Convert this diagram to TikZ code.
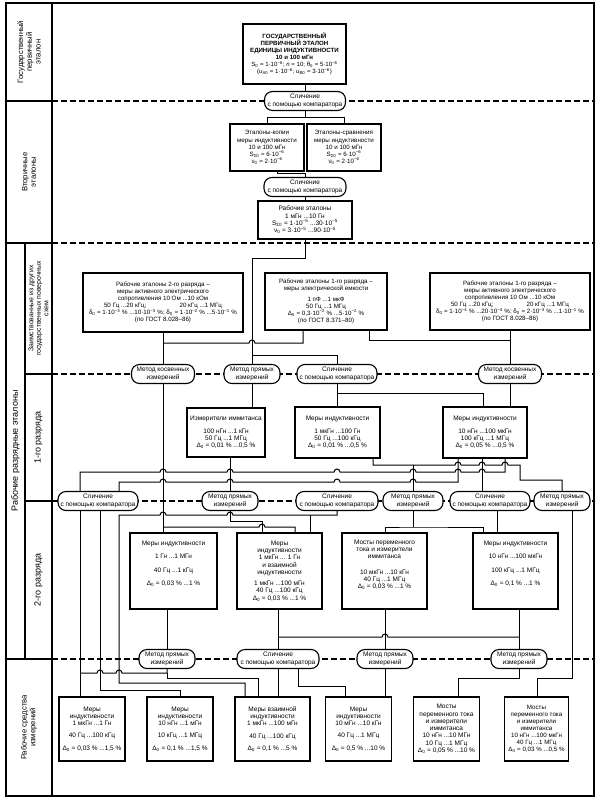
\documentclass[tikz,border=0pt]{standalone}
\usepackage{fontspec}
\setmainfont{Liberation Sans}
\newcommand\pw[1]{\textsuperscript{#1}}
\newcommand\sbs[1]{\textsubscript{#1}}
\newcommand\bmp[2]{-- ({#1-3},#2) arc[start angle=180,end angle=0,radius=3pt]}
\newcommand\bmpl[2]{-- ({#1+3},#2) arc[start angle=0,end angle=180,radius=3pt]}
\newcommand\bxf{\fontsize{6.5}{7.3}\selectfont}
\newcommand\bbf{\fontsize{6.2}{7.1}\selectfont}
\newcommand\gpf{\fontsize{6.1}{7.1}\selectfont}
\newcommand\lbf{\fontsize{7.7}{8.7}\selectfont}
\begin{document}
\begin{tikzpicture}[x=1pt,y=-1pt,
  box/.style={draw,line width=1.1pt,fill=white,align=center,font=\bxf,inner sep=1pt},
  oval/.style={draw,line width=1.1pt,fill=white,align=center,font=\bxf,rounded corners=8pt,minimum height=19pt,inner sep=0.5pt},
  conn/.style={line width=1pt},
  sepline/.style={line width=1.1pt,dash pattern=on 6pt off 3pt},
  frm/.style={line width=1.4pt},
  lab/.style={align=center,font=\lbf,rotate=90,inner sep=0pt}]
\fill[white] (0,0) rectangle (601,806);
\useasboundingbox (0,0) rectangle (601,806);
% separators
\foreach \yy in {101,243,374,501,659} \draw[sepline] (52,\yy) -- (594,\yy);
\draw[frm] (6,3) rectangle (594,796);
\draw[frm] (52,3) -- (52,796);
\draw[frm] (25,243) -- (25,659);
\draw[frm] (6,101) -- (52,101);
\draw[frm] (6,243) -- (52,243);
\draw[frm] (25,374) -- (52,374);
\draw[frm] (25,501) -- (52,501);
\draw[frm] (6,659) -- (52,659);
% labels
\node[lab] (L1) at (29,52) {Государственный\\первичный\\эталон};
\node[lab] (L2) at (29,172) {Вторичные\\эталоны};
\node[lab,font=\fontsize{9}{10}\selectfont] (L3) at (15.5,451) {Рабочие разрядные эталоны};
\node[lab,font=\fontsize{6.9}{7.4}\selectfont] (L3a) at (38.5,308.5) {Заимствованные из других\\государственных поверочных\\схем};
\node[lab,font=\fontsize{9}{10}\selectfont] (L3b) at (38.5,437.5) {1-го разряда};
\node[lab,font=\fontsize{9}{10}\selectfont] (L3c) at (38.5,580) {2-го разряда};
\node[lab] (L4) at (29,727.5) {Рабочие средства\\измерений};
% top
\node[box,line width=2.4pt,minimum width=103pt,minimum height=60pt,font=\gpf] (GPE) at (294.5,54)
 {\textbf{ГОСУДАРСТВЕННЫЙ}\\\textbf{ПЕРВИЧНЫЙ ЭТАЛОН}\\\textbf{ЕДИНИЦЫ ИНДУКТИВНОСТИ}\\\textbf{10 и 100 мГн}\\
  S\sbs{0} = 1·10\pw{−6}; \textit{n} = 10; θ\sbs{0} = 5·10\pw{−6}\\(\textit{u}\sbs{A0} = 1·10\pw{−6}; \textit{u}\sbs{B0} = 3·10\pw{−6})};
\node[oval,minimum width=81pt] (O1) at (305,101) {Сличение\\с помощью компаратора};
\node[box,minimum width=74pt,minimum height=47pt,font=\bbf] (EK) at (267,147.5)
 {Эталоны-копии\\меры индуктивности\\10 и 100 мГн\\S\sbs{Σ0} = 6·10\pw{−6}\\ν\sbs{0} = 2·10\pw{−6}};
\node[box,minimum width=74pt,minimum height=47pt,font=\bbf] (ES) at (344,147.5)
 {Эталоны-сравнения\\меры индуктивности\\10 и 100 мГн\\S\sbs{Σ0} = 6·10\pw{−6}\\ν\sbs{0} = 2·10\pw{−6}};
\node[oval,minimum width=82pt] (O2) at (305,187) {Сличение\\с помощью компаратора};
\node[box,minimum width=94pt,minimum height=38pt] (RE) at (305,220)
 {Рабочие эталоны\\1 мГн ...10 Гн\\S\sbs{Σ0} = 1·10\pw{−5} ...30·10\pw{−5}\\ν\sbs{0} = 3·10\pw{−5} ...90·10\pw{−5}};
% borrowed
\node[box,minimum width=160pt,minimum height=59pt,font=\bbf] (B1) at (163,302.5)
 {Рабочие эталоны 2-го разряда –\\меры активного электрического\\сопротивления 10 Ом ...10 кОм\\
  \makebox[118pt]{50 Гц ...20 кГц;\hfill 20 кГц ...1 МГц}\\
  δ\sbs{0} = 1·10\pw{−3} \% ...10·10\pw{−3} \%; δ\sbs{0} = 1·10\pw{−2} \% ...5·10\pw{−1} \%\\(по ГОСТ 8.028–86)};
\node[box,minimum width=122pt,minimum height=57pt,font=\bbf] (B2) at (326,301.5)
 {Рабочие эталоны 1-го разряда –\\меры электрической емкости\\[3pt]1 пФ ...1 мкФ\\50 Гц ...1 МГц\\
  Δ\sbs{0} = 0,3·10\pw{−2} \% ...5·10\pw{−2} \%\\(по ГОСТ 8.371–80)};
\node[box,minimum width=160pt,minimum height=57pt,font=\bbf] (B3) at (510,301.5)
 {Рабочие эталоны 1-го разряда –\\меры активного электрического\\сопротивления 10 Ом ...10 кОм\\
  \makebox[118pt]{50 Гц ...20 кГц;\hfill 20 кГц ...1 МГц}\\
  δ\sbs{0} = 1·10\pw{−4} \% ...20·10\pw{−4} \%; δ\sbs{0} = 2·10\pw{−3} \% ...1·10\pw{−1} \%\\(по ГОСТ 8.028–86)};
% ovals row 374
\node[oval,minimum width=63pt] (MK1) at (163,374) {Метод косвенных\\измерений};
\node[oval,minimum width=56pt] (MP1) at (252,374) {Метод прямых\\измерений};
\node[oval,minimum width=80pt] (SK1) at (337,374) {Сличение\\с помощью компаратора};
\node[oval,minimum width=63pt] (MK2) at (510,374) {Метод косвенных\\измерений};
% 1st rank
\node[box,minimum width=78pt,minimum height=49pt] (II) at (226,432.5)
 {Измерители иммитанса\\[5pt]100 нГн ...1 кГн\\50 Гц ...1 МГц\\Δ\sbs{0} = 0,01 \% ...0,5 \%};
\node[box,minimum width=85pt,minimum height=51pt] (MI1) at (337.5,432.5)
 {Меры индуктивности\\[5pt]1 мкГн ...100 Гн\\50 Гц ...100 кГц\\Δ\sbs{0} = 0,01 \% ...0,5 \%};
\node[box,minimum width=84pt,minimum height=51pt] (MI2) at (485,432.5)
 {Меры индуктивности\\[5pt]10 нГн ...100 мкГн\\100 кГц ...1 МГц\\Δ\sbs{0} = 0,05 \% ...0,5 \%};
% ovals row 501
\node[oval,minimum width=80pt] (SK2) at (98,501) {Сличение\\с помощью компаратора};
\node[oval,minimum width=56pt] (MP2) at (230,501) {Метод прямых\\измерений};
\node[oval,minimum width=82pt] (SK3) at (337,501) {Сличение\\с помощью компаратора};
\node[oval,minimum width=60pt] (MP3) at (413,501) {Метод прямых\\измерений};
\node[oval,minimum width=80pt] (SK4) at (490,501) {Сличение\\с помощью компаратора};
\node[oval,minimum width=56pt] (MP4) at (562,501) {Метод прямых\\измерений};
% 2nd rank
\node[box,minimum width=87pt,minimum height=76pt] (C1) at (173.5,571)
 {Меры индуктивности\\[6pt]1 Гн ...1 МГн\\[6pt]40 Гц ...1 кГц\\[6pt]Δ\sbs{0} = 0,03 \% ...1 \%\\[8pt]};
\node[box,minimum width=85pt,minimum height=76pt] (C2) at (279.5,571)
 {Меры\\индуктивности\\1 мкГн ... 1 Гн\\и взаимной\\индуктивности\\[4pt]1 мкГн ...100 мГн\\40 Гц ...100 кГц\\Δ\sbs{0} = 0,03 \% ...1 \%};
\node[box,minimum width=85pt,minimum height=76pt] (C3) at (384.5,571)
 {Мосты переменного\\тока и измерители\\иммитанса\\[8pt]10 мкГн ...10 кГн\\40 Гц ...1 МГц\\Δ\sbs{0} = 0,03 \% ...1 \%\\[6pt]};
\node[box,minimum width=85pt,minimum height=76pt] (C4) at (515.5,571)
 {Меры индуктивности\\[6pt]10 нГн ...100 мкГн\\[6pt]100 кГц ...1 МГц\\[6pt]Δ\sbs{0} = 0,1 \% ...1 \%\\[8pt]};
% ovals row 659
\node[oval,minimum width=56pt] (MP5) at (167,659) {Метод прямых\\измерений};
\node[oval,minimum width=82pt] (SK5) at (278,659) {Сличение\\с помощью компаратора};
\node[oval,minimum width=56pt] (MP6) at (385,659) {Метод прямых\\измерений};
\node[oval,minimum width=56pt] (MP7) at (519,659) {Метод прямых\\измерений};
% working instruments
\node[box,minimum width=66pt,minimum height=64pt] (D1) at (92,729)
 {Меры\\индуктивности\\1 мкГн ...1 Гн\\[5pt]40 Гц ...100 кГц\\[5pt]Δ\sbs{0} = 0,03 \% ...1,5 \%};
\node[box,minimum width=66pt,minimum height=64pt] (D2) at (180,729)
 {Меры\\индуктивности\\10 нГн ...1 мГн\\[5pt]10 кГц ...1 МГц\\[5pt]Δ\sbs{0} = 0,1 \% ...1,5 \%};
\node[box,minimum width=75pt,minimum height=64pt] (D3) at (272.5,729)
 {Меры взаимной\\индуктивности\\1 мкГн ...100 мГн\\[5pt]40 Гц ...100 кГц\\[5pt]Δ\sbs{0} = 0,1 \% ...5 \%};
\node[box,minimum width=66pt,minimum height=64pt] (D4) at (358.5,729)
 {Меры\\индуктивности\\10 мГн ...10 кГн\\[5pt]40 Гц ...1 МГц\\[5pt]Δ\sbs{0} = 0,5 \% ...10 \%};
\node[box,minimum width=66pt,minimum height=64pt] (D5) at (446.5,729)
 {Мосты\\переменного тока\\и измерители\\иммитанса\\10 нГн ...10 МГн\\10 Гц ...1 МГц\\Δ\sbs{0} = 0,05 \% ...10 \%};
\node[box,minimum width=64pt,minimum height=64pt,font=\bbf] (D6) at (536.5,729)
 {Мосты\\переменного тока\\и измерители\\иммитанса\\10 нГн ...100 мкГн\\40 Гц ...1 МГц\\Δ\sbs{0} = 0,03 \% ...0,5 \%};
% ---------- connectors ----------
\draw[conn] (GPE.south -| O1.north) -- (O1.north);
\draw[conn] (O1.south) -- (305,117);
\draw[conn] (EK.north) |- (ES.north |- 0,117) -- (ES.north);
\draw[conn] ([xshift=10pt]EK.south) |- (O2.north |- 0,173.5) -- (O2.north);
\draw[conn] (O2.south) -- (RE.north);
\draw[conn] (RE.south) |- (252,258) -- (MP1.north);
\draw[conn] (252,355) -| (SK1.north);
\draw[conn] (MK1.north |- B1.south) -- (MK1.north);
\draw[conn] ([xshift=-23pt]B2.south) -- (303,343) \bmpl{252}{343} -- (MK1.north |- 0,343);
\draw[conn] ([xshift=43pt]B2.south) |- (MK2.north |- 0,340);
\draw[conn] (B3.south) -- (MK2.north);
% 1st rank
\draw[conn] (MK1.south) -- (MK1.south |- C1.north);
\draw[conn] (MP1.south) -- (MP1.south |- II.north);
\draw[conn] (SK1.south) -- (SK1.south |- MI1.north);
\draw[conn] (SK1.south |- 0,393) -| ([xshift=-2pt]MI2.north);
\draw[conn] (MK2.south) -- (MK2.south |- MI2.north);
\draw[conn] (MP2.north |- II.south) -- (MP2.north);
\draw[conn] (505,0 |- MI2.south) -- (505,472) \bmpl{482}{472} \bmpl{458}{472} \bmpl{413}{472} \bmpl{337}{472} \bmpl{230}{472} \bmpl{163}{472} -| (80,0 |- SK2.north);
\draw[conn] (458,0 |- MI2.south) -- (458,482) \bmpl{413}{482} \bmpl{337}{482} \bmpl{230}{482} \bmpl{163}{482} -| (119,0 |- SK2.north);
\draw[conn] (482,0 |- MI2.south) -- (482,0 |- SK4.north);
\draw[conn] (373,0 |- MI1.south) -- (373,465) \bmp{458}{465} \bmp{482}{465} \bmp{505}{465} -- (520,465) |- (MP4.north |- 0,480) -- (MP4.north);
\draw[conn] (MP3.north |- 0,465) -- (MP3.north);
% 2nd rank
\draw[conn] (SK3.south) -- (337,515) \bmpl{230}{515} \bmpl{163}{515} -- (119,515) |- (245,683) -- (245,0 |- D3.north);
\draw[conn] (310,515) -- (310,0 |- C2.north);
\draw[conn] (MP2.south) |- (262,521) -- (262,0 |- C2.north);
\draw[conn] (163,527) \bmp{262}{527} -- (295,527) -- (295,0 |- C2.north);
\draw[conn] (MP3.south) -- (413,527);
\draw[conn] (385,0 |- C3.north) |- (413,527) -| (483,0 |- C4.north);
\draw[conn] (497,0 |- SK4.south) -- (497,0 |- C4.north);
\draw[conn] (572,0 |- MP4.south) |- (537,678) -- (537,0 |- D6.north);
% bottom
\draw[conn] (80,0 |- SK2.south) -- (80,0 |- D1.north);
\draw[conn] (100,0 |- SK2.south) |- (D2.north |- 0,690) -- (D2.north);
\draw[conn] (MP5.north |- C1.south) -- (MP5.north);
\draw[conn] (MP5.south) -- (167,673) \bmpl{119}{673} \bmpl{100}{673} -- (80,673);
\draw[conn] (167,673) |- (258,678) -- (258,0 |- D3.north);
\draw[conn] (SK5.north |- C2.south) -- (SK5.north);
\draw[conn] (MP7.north |- C4.south) -- (MP7.north);
\draw[conn] (MP7.north |- 0,637) \bmpl{385}{637} -- (SK5.north |- 0,637);
\draw[conn] (MP6.north |- C3.south) -- (MP6.north);
\draw[conn] (SK5.south) -- (SK5.south |- D3.north);
\draw[conn] ([xshift=20pt]SK5.south) |- (345,686) -- (345,0 |- D4.north);
\draw[conn] (MP6.south) -- (MP6.south |- D4.north);
\draw[conn] (MP7.south) |- (458,678) -- (458,0 |- D5.north);
\end{tikzpicture}
\end{document}
